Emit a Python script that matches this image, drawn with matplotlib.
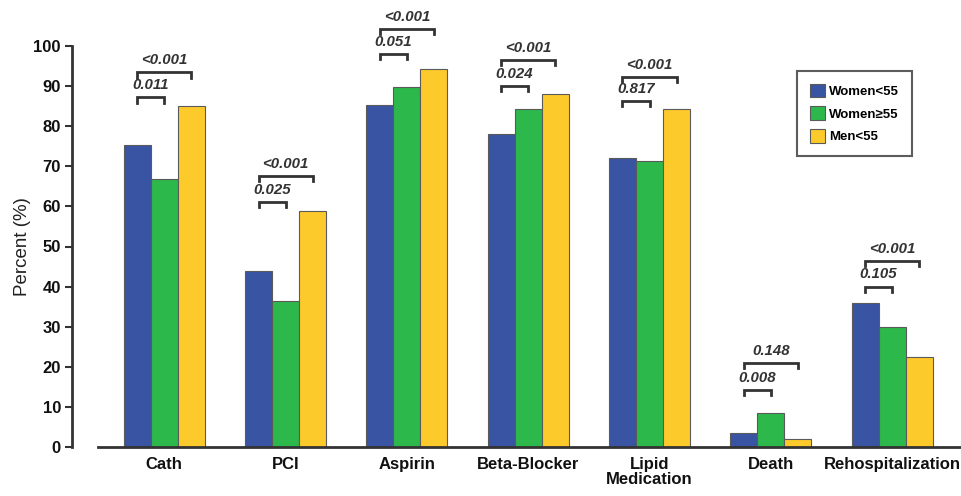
import matplotlib
matplotlib.use("Agg")
import matplotlib.pyplot as plt
import numpy as np
from matplotlib.patches import Patch

categories = ["Cath", "PCI", "Aspirin", "Beta-Blocker", "Lipid\nMedication", "Death", "Rehospitalization"]
series_names = ["Women<55", "Women\u226555", "Men<55"]
women_lt55 = [75.2, 44.0, 85.3, 78.0, 72.0, 3.5, 35.8]
women_ge55 = [66.8, 36.3, 89.8, 84.2, 71.4, 8.5, 29.9]
men_lt55 = [85.0, 58.8, 94.3, 88.0, 84.3, 2.0, 22.4]
p_women = ["0.011", "0.025", "0.051", "0.024", "0.817", "0.008", "0.105"]
p_men = ["<0.001", "<0.001", "<0.001", "<0.001", "<0.001", "0.148", "<0.001"]
bracket_women_y = [87.2, 61.1, 98.0, 90.0, 86.3, 14.2, 40.0]
bracket_men_y = [93.4, 67.6, 104.2, 96.5, 92.3, 21.0, 46.4]

colors = ["#3a54a4", "#2db84b", "#fdca2c"]
edge = "#5a5a5a"
ink = "#333333"

fam = ["Liberation Sans", "DejaVu Sans"]
plt.rcParams["font.family"] = fam

fig = plt.figure(figsize=(9.62, 4.96), dpi=100)
ax = fig.add_axes([72/962, 49/496, (962-72)/962, 401/496])

x = np.arange(len(categories))
w = 0.223
for k, vals in enumerate([women_lt55, women_ge55, men_lt55]):
    ax.bar(x + (k - 1) * w, vals, width=w, color=colors[k], edgecolor=edge, linewidth=0.8, zorder=2)

tick = 1.3
for i in range(len(categories)):
    for y, p, x2 in [(bracket_women_y[i], p_women[i], x[i]), (bracket_men_y[i], p_men[i], x[i] + w)]:
        x1 = x[i] - w
        ax.plot([x1, x1, x2, x2], [y - tick, y, y, y - tick], color=ink, lw=2.0,
                clip_on=False, solid_joinstyle="miter", zorder=3)
        ax.text((x1 + x2) / 2, y + 1.3, p, ha="center", va="bottom", fontsize=10.8,
                fontstyle="italic", fontweight="bold", color=ink, clip_on=False)

ax.set_ylim(0, 100)
ax.set_xlim((72 - 164.3) / 121.3, (962 - 164.3) / 121.3)
ax.set_yticks(range(0, 101, 10))
ax.set_xticks(x)
ax.set_xticklabels(categories, fontsize=12, fontweight="bold", linespacing=1.05, color="#111111")
ax.tick_params(axis="x", length=0, pad=7)
ax.tick_params(axis="y", length=5, width=1.5, labelsize=12, pad=3, color=ink, labelcolor="#111111")
for lab in ax.get_yticklabels():
    lab.set_fontweight("bold")
ax.set_ylabel("Percent (%)", fontsize=13.5, color="#222222")
ax.yaxis.set_label_coords((31 - 72) / 890, 0.5)

for s in ["top", "right"]:
    ax.spines[s].set_visible(False)
ax.spines["left"].set_linewidth(2.0)
ax.spines["left"].set_color(ink)
ax.spines["bottom"].set_linewidth(2.0)
ax.spines["bottom"].set_color(ink)
ax.spines["bottom"].set_bounds((98 - 164.3) / 121.3, (962 - 164.3) / 121.3)

handles = [Patch(facecolor=c, edgecolor=edge, linewidth=0.8) for c in colors]
leg = ax.legend(handles, series_names, loc="upper left",
                bbox_to_anchor=((797 - 72) / 890, (496 - 49 - 71) / 401),
                frameon=True, fancybox=False, edgecolor=ink, handlelength=1.21,
                handleheight=1.21, labelspacing=0.65, borderpad=0.95, handletextpad=0.3,
                borderaxespad=0.0,
                prop={"family": fam, "weight": "bold", "size": 9.5})
leg.get_frame().set_linewidth(1.5)

fig.savefig("out.png", dpi=100)
